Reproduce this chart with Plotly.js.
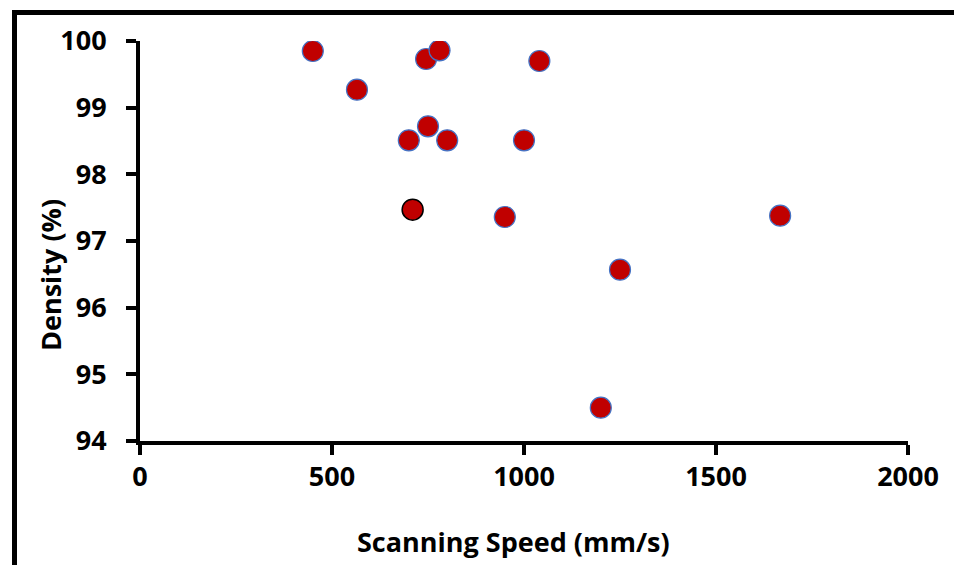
<!DOCTYPE html>
<html>
<head>
<meta charset="utf-8">
<script src="https://cdn.plot.ly/plotly-3.0.1.min.js"></script>
<style>
  html, body { margin: 0; padding: 0; background: #fff; }
  #wrap { position: relative; width: 954px; height: 565px; overflow: hidden; }
  #frame { position: absolute; left: 12px; top: 10px; width: 937px; height: 600px;
           border-left: 5px solid #000; border-top: 5px solid #000; border-right: 2px solid #000;
           pointer-events: none; z-index: 5; }
  #chart { position: absolute; left: 0; top: 0; width: 954px; height: 565px; }
</style>
</head>
<body>
<div id="wrap">
  <div id="chart"></div>
  <div id="frame"></div>
</div>
<script>
// Scanning speed (mm/s) and relative density (%) of the printed samples
const scanSpeed = [450, 565, 745, 780, 1040, 700, 750, 800, 1000, 950, 1667, 1250, 1200];
const density   = [99.85, 99.27, 99.73, 99.86, 99.70, 98.51, 98.72, 98.51, 98.51, 97.36, 97.38, 96.57, 94.50];

// Highlighted sample (drawn with a dark outline)
const markSpeed = [710];
const markDensity = [97.47];

const xTicks = [0, 500, 1000, 1500, 2000];
const yTicks = [94, 95, 96, 97, 98, 99, 100];

const xTitle = 'Scanning Speed (mm/s)';
const yTitle = 'Density (%)';

const font = '"Open Sans", sans-serif';
const fs = 27;

const traces = [
  {
    x: scanSpeed, y: density, type: 'scatter', mode: 'markers',
    marker: { size: 21, color: '#C00000', line: { color: '#4472C4', width: 1.2 } },
    hoverinfo: 'x+y'
  },
  {
    x: markSpeed, y: markDensity, type: 'scatter', mode: 'markers',
    marker: { size: 21, color: '#C00000', line: { color: '#000000', width: 1.5 } },
    hoverinfo: 'x+y'
  }
];

const titleFont = { family: font, size: fs, weight: 700, color: '#000' };

const layout = {
  width: 954, height: 565,
  margin: { l: 140, r: 46, t: 41, b: 124 },
  paper_bgcolor: '#fff', plot_bgcolor: '#fff',
  showlegend: false,
  font: { family: font, color: '#000', size: fs, weight: 700 },
  xaxis: {
    range: [0, 2000], tickvals: xTicks, ticktext: xTicks.map(String),
    showgrid: false, zeroline: false,
    showline: true, linecolor: '#000', linewidth: 4,
    ticks: 'outside', ticklen: 10, tickwidth: 4, tickcolor: '#000',
    ticklabelstandoff: -1,
    tickfont: { family: font, size: fs, weight: 700, color: '#000' }
  },
  yaxis: {
    range: [94, 100], tickvals: yTicks, ticktext: yTicks.map(String),
    showgrid: false, zeroline: false,
    showline: true, linecolor: '#000', linewidth: 4,
    ticks: 'outside', ticklen: 10, tickwidth: 4, tickcolor: '#000',
    ticklabelstandoff: 14,
    tickfont: { family: font, size: fs, weight: 700, color: '#000' }
  },
  // Axis titles, placed as free text beside the plot
  annotations: [
    { text: xTitle, xref: 'paper', yref: 'paper', x: 0.4857, y: -0.25,
      xanchor: 'center', yanchor: 'middle', showarrow: false, font: titleFont },
    { text: yTitle, xref: 'paper', yref: 'paper', x: -0.1172, y: 0.415,
      xanchor: 'center', yanchor: 'middle', textangle: -90, showarrow: false, font: titleFont }
  ]
};

Plotly.newPlot('chart', traces, layout, { displayModeBar: false, staticPlot: true });
</script>
</body>
</html>
